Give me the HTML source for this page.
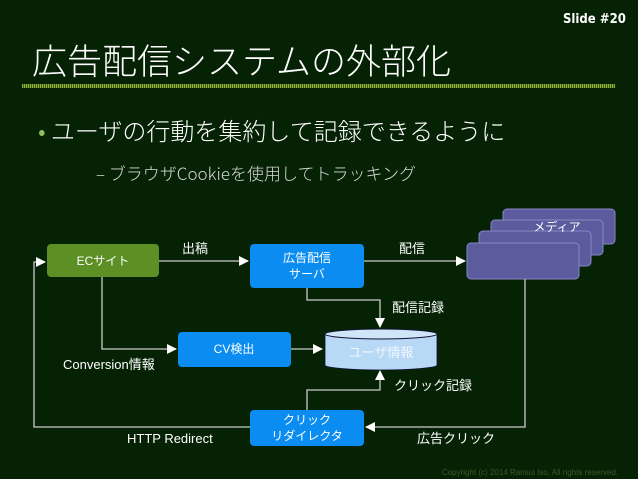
<html><head><style>
body{margin:0;width:638px;height:479px;background:#052205;overflow:hidden;font-family:"Liberation Sans","Noto Sans CJK JP",sans-serif;position:relative;color:#fff}
.t{position:absolute;white-space:nowrap}
</style></head><body>
<div class="t" style="left:563px;top:12px;font-size:13px;font-weight:bold;font-family:'DejaVu Sans Condensed','DejaVu Sans',sans-serif">Slide #20</div>
<div class="t" style="left:32px;top:34px;font-size:35px;font-family:'Noto Sans CJK JP',sans-serif;font-weight:300">広告配信システムの外部化</div>
<div style="position:absolute;left:22px;top:84px;width:593px;height:4px;background:repeating-linear-gradient(90deg,#8fb33a 0 1px,#3a5a10 1px 2px)"></div>
<div class="t" style="left:38px;top:112px;font-size:24px;font-family:'Noto Sans CJK JP',sans-serif;font-weight:300"><span style="color:#8fc060">•</span> ユーザの行動を集約して記録できるように</div>
<div class="t" style="left:96px;top:160px;font-size:17px;color:#d8d8d8;font-family:'Noto Sans CJK JP',sans-serif;font-weight:300">– ブラウザCookieを使用してトラッキング</div>
<svg width="638" height="479" style="position:absolute;left:0;top:0" font-family="Liberation Sans,Noto Sans CJK JP,sans-serif">
<defs><marker id="a" markerWidth="10" markerHeight="10" refX="9" refY="5" orient="auto" markerUnits="userSpaceOnUse"><path d="M0,0L10,5L0,10z" fill="#fff"/></marker></defs>
<g fill="#5b5b9e" stroke="#8888c8" stroke-width="1">
<rect x="503" y="209" width="112" height="35" rx="4"/>
<rect x="491" y="220" width="112" height="35" rx="4"/>
<rect x="479" y="231" width="112" height="35" rx="4"/>
<rect x="467" y="243" width="112" height="36" rx="4"/>
</g>
<text x="557" y="231" fill="#fff" font-size="12" text-anchor="middle">メディア</text>
<g stroke="#ccc" stroke-width="1.3" fill="none">
<path d="M159,261H248" marker-end="url(#a)"/>
<path d="M364,261H465" marker-end="url(#a)"/>
<path d="M307,288V300H380V327" marker-end="url(#a)"/>
<path d="M102,276V349H176" marker-end="url(#a)"/>
<path d="M291,349H322" marker-end="url(#a)"/>
<path d="M307,410V390H380V371" marker-end="url(#a)"/>
<path d="M525,279V427H366" marker-end="url(#a)"/>
<path d="M250,427H34V262H45" marker-end="url(#a)"/>
</g>
<rect x="47" y="244" width="112" height="33" rx="4" fill="#5c9024"/>
<text x="103" y="265" fill="#fff" font-size="12" text-anchor="middle">ECサイト</text>
<rect x="250" y="244" width="114" height="44" rx="4" fill="#0a8cf0"/>
<text x="307" y="262" fill="#fff" font-size="12" text-anchor="middle">広告配信</text>
<text x="307" y="278" fill="#fff" font-size="12" text-anchor="middle">サーバ</text>
<rect x="178" y="332" width="113" height="35" rx="4" fill="#0a8cf0"/>
<text x="234" y="353" fill="#fff" font-size="12" text-anchor="middle">CV検出</text>
<path d="M325,334V365A56,5 0 0 0 437,365V334" fill="#b8d9f5" stroke="#113" stroke-width="0.8"/>
<ellipse cx="381" cy="334" rx="56" ry="5" fill="#d0e6f8" stroke="#113" stroke-width="1"/>
<text x="381" y="357" fill="#eef6ff" font-size="13" text-anchor="middle">ユーザ情報</text>
<rect x="250" y="410" width="114" height="36" rx="4" fill="#0a8cf0"/>
<text x="307" y="424" fill="#fff" font-size="12" text-anchor="middle">クリック</text>
<text x="307" y="440" fill="#fff" font-size="12" text-anchor="middle">リダイレクタ</text>
<g fill="#fff" font-size="13">
<text x="182" y="253">出稿</text>
<text x="399" y="253">配信</text>
<text x="392" y="312">配信記録</text>
<text x="394" y="390">クリック記録</text>
<text x="63" y="369">Conversion情報</text>
<text x="127" y="443">HTTP Redirect</text>
<text x="417" y="443">広告クリック</text>
</g>
<text x="618" y="475" fill="#3a5a2a" font-size="8" text-anchor="end">Copyright (c) 2014 Ransui Iso, All rights reserved.</text>
</svg>
</body></html>
